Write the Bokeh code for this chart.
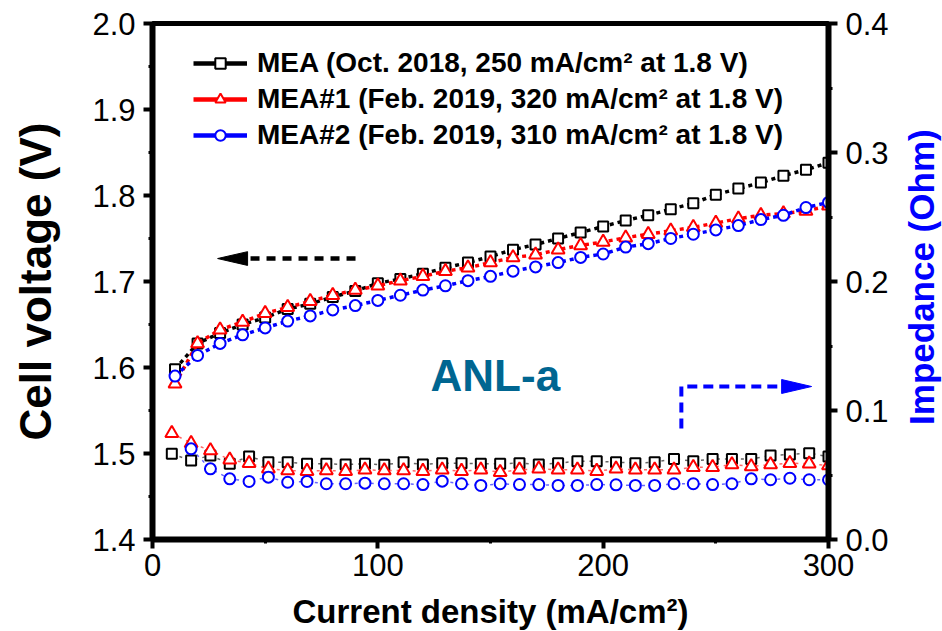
import math
from bokeh.plotting import figure
from bokeh.layouts import row, column
from bokeh.models import (Range1d, LinearAxis, FixedTicker, PrintfTickFormatter,
                          Legend, LegendItem, Label)
from bokeh.embed import file_html
from bokeh.resources import INLINE

# ---------------- data ----------------
current_v = [10, 20, 30, 40, 50, 60, 70, 80, 90, 100, 110, 120, 130, 140, 150,
             160, 170, 180, 190, 200, 210, 220, 230, 240, 250, 260, 270, 280, 290, 300]
mea_v = [1.598, 1.628, 1.640, 1.650, 1.658, 1.668, 1.674, 1.682, 1.689, 1.698,
         1.703, 1.709, 1.716, 1.722, 1.729, 1.737, 1.743, 1.750, 1.757, 1.764,
         1.771, 1.777, 1.784, 1.791, 1.801, 1.808, 1.815, 1.823, 1.830, 1.838]
mea1_v = [1.581, 1.628, 1.644, 1.653, 1.663, 1.670, 1.677, 1.684, 1.690, 1.695,
          1.701, 1.706, 1.712, 1.716, 1.722, 1.728, 1.731, 1.737, 1.742, 1.746,
          1.751, 1.755, 1.759, 1.763, 1.768, 1.773, 1.777, 1.779, 1.782, 1.788]
mea2_v = [1.590, 1.614, 1.628, 1.638, 1.646, 1.654, 1.660, 1.667, 1.672, 1.678,
          1.684, 1.690, 1.695, 1.701, 1.706, 1.712, 1.717, 1.722, 1.728, 1.732,
          1.740, 1.744, 1.750, 1.755, 1.760, 1.765, 1.772, 1.777, 1.786, 1.792]

current_z = [8.57, 17.14, 25.71, 34.29, 42.86, 51.43, 60.0, 68.57, 77.14, 85.71,
             94.29, 102.86, 111.43, 120.0, 128.57, 137.14, 145.71, 154.29, 162.86,
             171.43, 180.0, 188.57, 197.14, 205.71, 214.29, 222.86, 231.43, 240.0,
             248.57, 257.14, 265.71, 274.29, 282.86, 291.43, 300.0]
mea_z = [0.0664, 0.0612, 0.0651, 0.0587, 0.0643, 0.0599, 0.0599, 0.0587, 0.0587,
         0.0581, 0.0587, 0.0579, 0.0599, 0.0581, 0.0592, 0.0592, 0.0587, 0.0587,
         0.0592, 0.0581, 0.0592, 0.0607, 0.0607, 0.0599, 0.0592, 0.0599, 0.0625,
         0.0607, 0.0625, 0.0625, 0.0625, 0.0651, 0.0659, 0.0669, 0.0643]
mea1_z = [0.0824, 0.0747, 0.0690, 0.0618, 0.0592, 0.0548, 0.0535, 0.0530, 0.0535,
          0.0530, 0.0540, 0.0535, 0.0535, 0.0530, 0.0540, 0.0530, 0.0540, 0.0522,
          0.0540, 0.0548, 0.0540, 0.0540, 0.0530, 0.0548, 0.0540, 0.0540, 0.0540,
          0.0561, 0.0561, 0.0581, 0.0566, 0.0581, 0.0592, 0.0587, 0.0574]
current_z2 = current_z[1:]
mea2_z = [0.0703, 0.0548, 0.0470, 0.0450, 0.0483, 0.0444, 0.0450, 0.0432,
          0.0432, 0.0437, 0.0432, 0.0432, 0.0426, 0.0452, 0.0432, 0.0419, 0.0432,
          0.0426, 0.0426, 0.0419, 0.0419, 0.0426, 0.0424, 0.0419, 0.0419, 0.0432,
          0.0432, 0.0426, 0.0432, 0.0470, 0.0463, 0.0475, 0.0463, 0.0463]

labels = ["MEA (Oct. 2018, 250 mA/cm\u00b2 at 1.8 V)",
          "MEA#1 (Feb. 2019, 320 mA/cm\u00b2 at 1.8 V)",
          "MEA#2 (Feb. 2019, 310 mA/cm\u00b2 at 1.8 V)"]
colors = ["black", "#ff0000", "#0000ff"]
markers = ["square", "triangle", "circle"]
marker_sizes = [10, 13, 11]

x_ticks = [0, 100, 200, 300]
x_minor = [50, 150, 250]
yl_ticks = [1.4, 1.5, 1.6, 1.7, 1.8, 1.9, 2.0]
yl_minor = [1.45, 1.55, 1.65, 1.75, 1.85, 1.95]
yr_ticks = [0.0, 0.1, 0.2, 0.3, 0.4]
yr_minor = [0.05, 0.15, 0.25, 0.35]

x_title = "Current density (mA/cm\u00b2)"
yl_title = "Cell voltage (V)"
yr_title = "Impedance (Ohm)"

FONT = "Liberation Sans"

# ---------------- main figure ----------------
p = figure(width=900, height=592, output_backend="svg", toolbar_location=None,
           x_range=Range1d(0, 300), y_range=Range1d(1.4, 2.0),
           min_border_left=152, min_border_right=72,
           min_border_top=23, min_border_bottom=53)
p.extra_y_ranges = {"imp": Range1d(0.0, 0.4)}
p.background_fill_color = "white"
p.border_fill_color = "white"
p.outline_line_color = "black"
p.outline_line_width = 5
p.xgrid.visible = False
p.ygrid.visible = False

raxis = LinearAxis(y_range_name="imp")
p.add_layout(raxis, "right")


def style_axis(ax):
    ax.axis_line_width = 6
    ax.axis_line_color = "black"
    ax.major_tick_line_width = 4
    ax.major_tick_out = 9
    ax.major_tick_in = 0
    ax.minor_tick_line_width = 3
    ax.minor_tick_out = 4
    ax.minor_tick_in = 0
    ax.major_label_text_font = FONT
    ax.major_label_text_font_size = "31px"
    ax.major_label_text_color = "black"
    ax.major_label_standoff = 8
    ax.axis_label_text_font = FONT
    ax.axis_label_text_font_style = "bold"


for ax in (p.xaxis[0], p.yaxis[0], raxis):
    style_axis(ax)

xax = p.xaxis[0]
xax.ticker = FixedTicker(ticks=x_ticks, minor_ticks=x_minor)
xax.major_label_standoff = 5

yax = p.yaxis[0]
yax.ticker = FixedTicker(ticks=yl_ticks, minor_ticks=yl_minor)
yax.formatter = PrintfTickFormatter(format="%.1f")
yax.axis_label = yl_title
yax.axis_label_text_font_size = "44px"
yax.axis_label_standoff = 29
yax.axis_label_text_color = "black"

raxis.ticker = FixedTicker(ticks=yr_ticks, minor_ticks=yr_minor)
raxis.formatter = PrintfTickFormatter(format="%.1f")

# ---------------- series ----------------
volt = [mea_v, mea1_v, mea2_v]
imp = [(current_z, mea_z), (current_z, mea1_z), (current_z2, mea2_z)]
items = []
for i in range(3):
    c = colors[i]
    p.line(current_v, volt[i], line_color=c, line_width=3.5, line_dash="4 4")
    sv = p.scatter(current_v, volt[i], marker=markers[i], size=marker_sizes[i],
                   line_color=c, line_width=2, fill_color="white")
    zx, zy = imp[i]
    p.line(zx, zy, line_color=c, line_width=1.5, line_dash="3 5", line_alpha=0.6,
           y_range_name="imp")
    p.scatter(zx, zy, marker=markers[i], size=marker_sizes[i], line_color=c,
              line_width=2, fill_color="white", y_range_name="imp")
    # legend sample line (not drawn in the plot), solid like the reference legend
    lg = p.line(x=[float("nan")], y=[float("nan")], line_color=c, line_width=4.5)
    items.append(LegendItem(label=labels[i], renderers=[lg, sv]))

legend = Legend(items=items, location=(41, 386), padding=0, margin=0, spacing=0,
                label_height=36, glyph_height=26, glyph_width=54, label_standoff=10,
                label_text_font=FONT, label_text_font_size="28px",
                label_text_font_style="bold", label_text_color="black",
                border_line_alpha=0, background_fill_alpha=0)
p.add_layout(legend)

# ---------------- annotations ----------------
# black arrow pointing to left axis
p.line([90.1, 42.2], [1.7267, 1.7267], line_color="black", line_width=4.5,
       line_dash="9 7")
p.patch([42.2, 28.9, 42.2], [1.7347, 1.7267, 1.7187], color="black")
# blue arrow pointing to right axis
p.line([234.7, 234.7, 279.2], [0.086, 0.1186, 0.1186], line_color="#0000ff",
       line_width=4, line_dash="10 6", y_range_name="imp")
p.patch([279.2, 292.5, 279.2], [0.1240, 0.1186, 0.1132], color="#0000ff",
        y_range_name="imp")

p.add_layout(Label(x=123.4, y=1.5907, text="ANL-a", text_font=FONT,
                   text_font_size="44px", text_font_style="bold",
                   text_color="#006691", text_align="left",
                   text_baseline="alphabetic"))


# ---------------- title strips (right axis title, x axis title) ----------------
def strip(w, h):
    f = figure(width=w, height=h, output_backend="svg", toolbar_location=None,
               x_range=Range1d(0, w), y_range=Range1d(0, h), title=None,
               x_axis_location=None, y_axis_location=None, min_border=0)
    f.outline_line_color = None
    f.background_fill_color = "white"
    f.border_fill_color = "white"
    f.grid.visible = False
    return f


p2 = strip(42, 592)
p2.add_layout(Label(x=21, y=301, text=yr_title, angle=math.pi / 2,
                    text_font=FONT, text_font_size="35px", text_font_style="bold",
                    text_align="center", text_baseline="middle",
                    text_color="#0000ff"))

p3 = strip(942, 39)
p3.add_layout(Label(x=490, y=20, text=x_title, text_font=FONT,
                    text_font_size="33px", text_font_style="bold",
                    text_align="center", text_baseline="alphabetic",
                    text_color="black"))

layout = column(row(p, p2, spacing=0), p3, spacing=0)

open("out.html", "w").write(file_html(layout, INLINE))
